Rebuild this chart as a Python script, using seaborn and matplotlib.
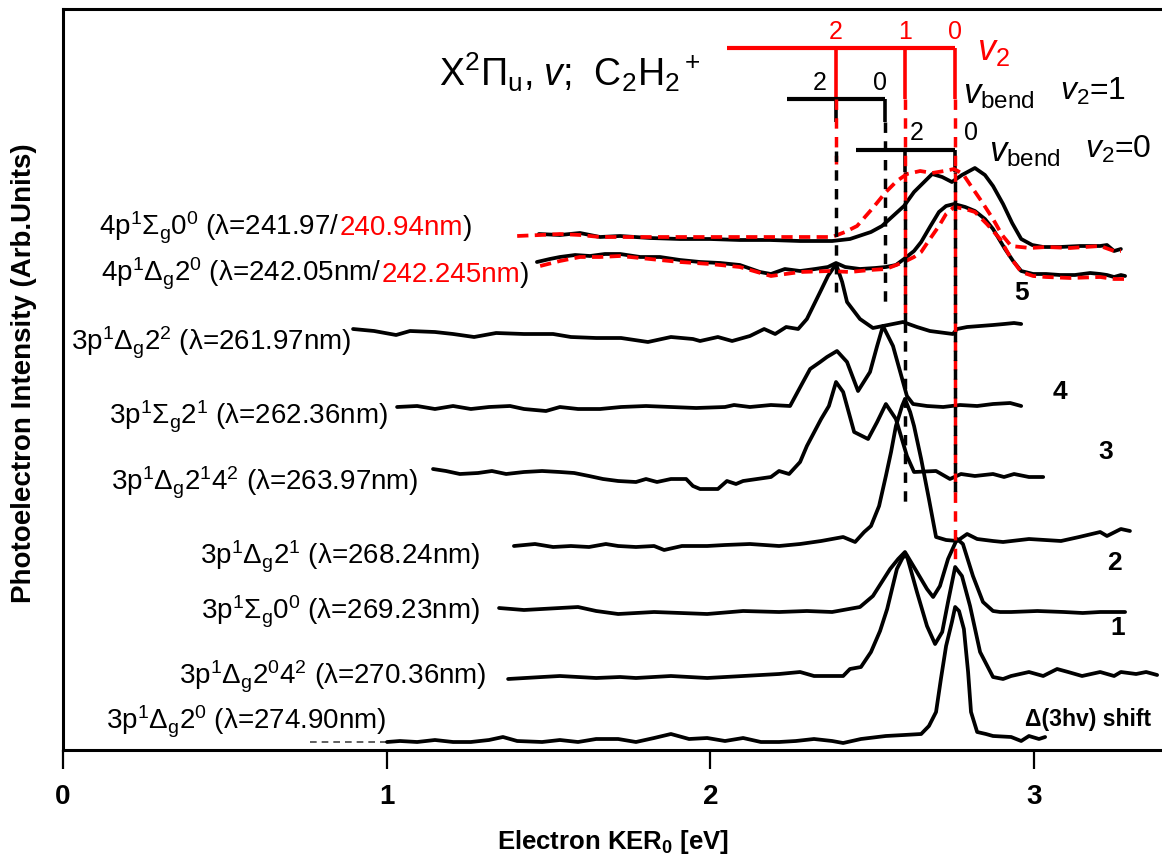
import matplotlib
matplotlib.use("Agg")
import matplotlib.pyplot as plt
import seaborn as sns

# ---------------- data (KER in eV, intensity in arbitrary units) ----------------
# 4p1Sigma_g 0^0, lambda = 241.97 nm (black)
s4p_24197_x = [1.470, 1.535, 1.597, 1.659, 1.721, 1.813, 1.906, 1.999, 2.091, 2.184, 2.277, 2.376,
               2.431, 2.496, 2.530, 2.564, 2.598, 2.629, 2.685, 2.716, 2.746, 2.777, 2.817, 2.848,
               2.873, 2.904, 2.932, 2.960, 2.994, 3.028, 3.080, 3.142, 3.204, 3.225, 3.247, 3.268]
s4p_24197_y = [5.16, 5.15, 5.17, 5.13, 5.14, 5.12, 5.11, 5.11, 5.10, 5.10, 5.09, 5.09,
               5.11, 5.18, 5.24, 5.34, 5.44, 5.58, 5.76, 5.73, 5.68, 5.75, 5.82, 5.75,
               5.64, 5.46, 5.27, 5.11, 5.05, 5.03, 5.03, 5.04, 5.04, 5.05, 4.99, 5.01]
# 4p1Sigma_g 0^0, lambda = 240.94 nm (red dashed)
s4p_24094_x = [1.403, 1.474, 1.535, 1.597, 1.659, 1.813, 1.968, 2.122, 2.277, 2.376, 2.416, 2.453,
               2.499, 2.542, 2.576, 2.607, 2.648, 2.685, 2.722, 2.753, 2.780, 2.805, 2.839, 2.873,
               2.901, 2.929, 2.987, 3.037, 3.111, 3.204, 3.247, 3.268]
s4p_24094_y = [5.14, 5.15, 5.16, 5.15, 5.13, 5.13, 5.13, 5.13, 5.13, 5.13, 5.18, 5.24,
               5.41, 5.58, 5.69, 5.76, 5.79, 5.77, 5.79, 5.81, 5.76, 5.64, 5.48, 5.31,
               5.15, 5.04, 5.02, 5.03, 5.02, 5.04, 4.99, 4.99]
# 4p1Delta_g 2^0, lambda = 242.05 nm (black)
d4p_24205_x = [1.464, 1.504, 1.535, 1.582, 1.628, 1.674, 1.721, 1.783, 1.844, 1.906, 1.968, 2.030,
               2.091, 2.153, 2.187, 2.230, 2.277, 2.323, 2.363, 2.388, 2.416, 2.462, 2.509, 2.542,
               2.573, 2.598, 2.629, 2.651, 2.678, 2.706, 2.728, 2.753, 2.787, 2.817, 2.848, 2.873,
               2.910, 2.935, 2.960, 2.997, 3.037, 3.080, 3.126, 3.173, 3.204, 3.225, 3.247, 3.268, 3.281]
d4p_24205_y = [4.88, 4.91, 4.93, 4.95, 4.94, 4.96, 4.96, 4.93, 4.93, 4.90, 4.88, 4.87,
               4.85, 4.78, 4.76, 4.81, 4.79, 4.81, 4.83, 4.87, 4.83, 4.81, 4.82, 4.83,
               4.85, 4.91, 4.99, 5.08, 5.23, 5.38, 5.44, 5.46, 5.43, 5.39, 5.31, 5.21,
               5.01, 4.89, 4.79, 4.76, 4.76, 4.75, 4.75, 4.77, 4.76, 4.75, 4.73, 4.75, 4.74]
# 4p1Delta_g 2^0, lambda = 242.245 nm (red dashed)
d4p_242245_x = [1.474, 1.535, 1.597, 1.659, 1.721, 1.813, 1.906, 1.999, 2.091, 2.187, 2.277, 2.370,
                2.431, 2.493, 2.542, 2.598, 2.629, 2.651, 2.678, 2.706, 2.728, 2.753, 2.787, 2.817,
                2.854, 2.895, 2.926, 2.960, 2.997, 3.037, 3.111, 3.204, 3.247, 3.281]
d4p_242245_y = [4.84, 4.89, 4.93, 4.93, 4.94, 4.91, 4.88, 4.86, 4.83, 4.74, 4.78, 4.79,
                4.78, 4.80, 4.81, 4.88, 4.93, 4.98, 5.11, 5.24, 5.36, 5.43, 5.41, 5.38,
                5.26, 5.11, 4.93, 4.78, 4.74, 4.73, 4.72, 4.73, 4.71, 4.71]
# 3p1Delta_g 2^2, 261.97 nm
d3p_26197_x = [0.896, 0.961, 1.029, 1.072, 1.149, 1.205, 1.270, 1.338, 1.424, 1.514, 1.569, 1.647,
               1.724, 1.807, 1.878, 1.946, 1.968, 2.023, 2.067, 2.122, 2.166, 2.200, 2.234, 2.271,
               2.298, 2.339, 2.363, 2.388, 2.407, 2.422, 2.462, 2.502, 2.533, 2.595, 2.638, 2.678,
               2.749, 2.762, 2.793, 2.873, 2.907, 2.938, 2.960]
d3p_26197_y = [4.21, 4.19, 4.15, 4.19, 4.18, 4.16, 4.13, 4.17, 4.16, 4.16, 4.13, 4.12,
               4.12, 4.08, 4.13, 4.11, 4.09, 4.13, 4.09, 4.14, 4.21, 4.16, 4.23, 4.21,
               4.31, 4.58, 4.74, 4.86, 4.68, 4.48, 4.31, 4.22, 4.24, 4.28, 4.23, 4.19,
               4.16, 4.21, 4.23, 4.25, 4.26, 4.27, 4.26]
# 3p1Sigma_g 2^1, 262.36 nm
s3p_26236_x = [1.032, 1.094, 1.149, 1.205, 1.260, 1.316, 1.381, 1.424, 1.492, 1.535, 1.591, 1.659,
               1.724, 1.801, 1.878, 1.956, 2.045, 2.073, 2.122, 2.187, 2.246, 2.286, 2.308, 2.339,
               2.360, 2.391, 2.422, 2.456, 2.493, 2.515, 2.533, 2.564, 2.607, 2.626, 2.669, 2.719,
               2.771, 2.824, 2.873, 2.926, 2.960]
s3p_26236_y = [3.43, 3.44, 3.41, 3.44, 3.41, 3.43, 3.44, 3.41, 3.39, 3.43, 3.41, 3.41,
               3.43, 3.44, 3.43, 3.42, 3.43, 3.45, 3.43, 3.45, 3.44, 3.68, 3.81, 3.88,
               3.93, 3.99, 3.88, 3.59, 3.78, 4.04, 4.24, 4.04, 3.54, 3.46, 3.44, 3.43,
               3.45, 3.44, 3.46, 3.47, 3.44]
# 3p1Delta_g 2^1 4^2, 263.97 nm
d3p_26397_x = [1.143, 1.183, 1.226, 1.282, 1.325, 1.369, 1.424, 1.480, 1.535, 1.579, 1.625, 1.668,
               1.715, 1.770, 1.801, 1.835, 1.878, 1.925, 1.946, 1.968, 2.023, 2.051, 2.079, 2.101,
               2.144, 2.187, 2.212, 2.243, 2.277, 2.298, 2.342, 2.366, 2.388, 2.410, 2.444, 2.487,
               2.515, 2.542, 2.573, 2.607, 2.629, 2.697, 2.740, 2.774, 2.817, 2.873, 2.907, 2.938,
               2.984, 3.028]
d3p_26397_y = [2.81, 2.79, 2.76, 2.77, 2.79, 2.76, 2.78, 2.79, 2.78, 2.77, 2.74, 2.71,
               2.69, 2.68, 2.71, 2.68, 2.71, 2.71, 2.64, 2.61, 2.61, 2.69, 2.66, 2.69,
               2.71, 2.73, 2.79, 2.76, 2.88, 3.04, 3.31, 3.44, 3.68, 3.58, 3.18, 3.11,
               3.28, 3.46, 3.31, 2.94, 2.78, 2.79, 2.71, 2.76, 2.74, 2.76, 2.73, 2.76,
               2.73, 2.73]
# 3p1Delta_g 2^1, 268.24 nm
d3p_26824_x = [1.393, 1.458, 1.514, 1.569, 1.625, 1.677, 1.715, 1.770, 1.826, 1.857, 1.912, 1.990,
               2.045, 2.122, 2.212, 2.277, 2.342, 2.410, 2.447, 2.475, 2.496, 2.521, 2.542, 2.558,
               2.573, 2.592, 2.601, 2.617, 2.629, 2.651, 2.675, 2.697, 2.728, 2.762, 2.793, 2.824,
               2.873, 2.904, 2.984, 3.083, 3.139, 3.204, 3.225, 3.268, 3.296]
d3p_26824_y = [2.04, 2.06, 2.03, 2.04, 2.03, 2.06, 2.04, 2.03, 2.04, 2.00, 2.04, 2.04,
               2.05, 2.06, 2.04, 2.06, 2.09, 2.13, 2.08, 2.18, 2.24, 2.44, 2.74, 2.98,
               3.24, 3.44, 3.51, 3.38, 3.24, 2.91, 2.51, 2.13, 2.10, 2.09, 2.16, 2.11,
               2.09, 2.08, 2.11, 2.09, 2.13, 2.18, 2.14, 2.21, 2.19]
# 3p1Sigma_g 0^0, 269.23 nm
s3p_26923_x = [1.347, 1.424, 1.535, 1.591, 1.647, 1.715, 1.826, 1.990, 2.101, 2.212, 2.298, 2.376,
               2.462, 2.502, 2.555, 2.580, 2.601, 2.638, 2.669, 2.688, 2.709, 2.734, 2.762, 2.780,
               2.811, 2.842, 2.873, 2.895, 2.929, 3.010, 3.092, 3.150, 3.204, 3.281]
s3p_26923_y = [1.42, 1.40, 1.42, 1.43, 1.39, 1.36, 1.38, 1.36, 1.39, 1.38, 1.39, 1.38,
               1.43, 1.54, 1.81, 1.91, 1.98, 1.78, 1.61, 1.53, 1.64, 1.91, 2.11, 2.06,
               1.74, 1.48, 1.39, 1.38, 1.38, 1.39, 1.38, 1.37, 1.38, 1.38]
# 3p1Delta_g 2^0 4^2, 270.36 nm
d3p_27036_x = [1.375, 1.480, 1.535, 1.591, 1.647, 1.721, 1.770, 1.878, 1.990, 2.101, 2.212, 2.277,
               2.320, 2.410, 2.431, 2.465, 2.496, 2.524, 2.546, 2.576, 2.595, 2.607, 2.638, 2.669,
               2.694, 2.716, 2.734, 2.756, 2.777, 2.802, 2.833, 2.873, 2.904, 2.929, 2.984, 3.028,
               3.071, 3.105, 3.148, 3.204, 3.247, 3.268, 3.315, 3.346, 3.380]
d3p_27036_y = [0.71, 0.73, 0.74, 0.73, 0.72, 0.73, 0.72, 0.74, 0.72, 0.74, 0.76, 0.78,
               0.74, 0.74, 0.81, 0.83, 0.98, 1.19, 1.41, 1.81, 1.93, 1.94, 1.58, 1.24,
               1.06, 1.18, 1.48, 1.83, 1.74, 1.44, 0.98, 0.73, 0.71, 0.74, 0.78, 0.74,
               0.81, 0.78, 0.74, 0.78, 0.74, 0.78, 0.76, 0.78, 0.75]
# 3p1Delta_g 2^0, 274.90 nm
d3p_27490_x = [1.001, 1.041, 1.094, 1.149, 1.205, 1.260, 1.316, 1.359, 1.403, 1.480, 1.535, 1.591,
               1.647, 1.715, 1.770, 1.826, 1.878, 1.934, 1.990, 2.045, 2.101, 2.156, 2.212, 2.264,
               2.320, 2.376, 2.410, 2.465, 2.542, 2.598, 2.651, 2.675, 2.697, 2.712, 2.728, 2.746,
               2.756, 2.768, 2.783, 2.796, 2.805, 2.824, 2.851, 2.873, 2.929, 2.960, 2.984, 3.015, 3.034]
d3p_27490_y = [0.08, 0.09, 0.08, 0.10, 0.08, 0.08, 0.10, 0.13, 0.09, 0.08, 0.10, 0.08,
               0.11, 0.11, 0.08, 0.12, 0.16, 0.11, 0.12, 0.09, 0.12, 0.08, 0.08, 0.09,
               0.11, 0.09, 0.07, 0.11, 0.14, 0.15, 0.16, 0.24, 0.38, 0.71, 1.04, 1.28,
               1.43, 1.39, 1.21, 0.78, 0.38, 0.18, 0.16, 0.14, 0.13, 0.09, 0.14, 0.11, 0.13]
d3p_27490_faint_x = [0.763, 1.001]
d3p_27490_faint_y = [0.08, 0.08]

# ion vibrational level energies (eV)
v2_levels = [2.388, 2.601, 2.756]
v2_labels = ["2", "1", "0"]
bend_v2_1 = [2.388, 2.539]
bend_v2_0 = [2.601, 2.756]
bend_labels = ["2", "0"]

x_ticks = [0, 1, 2, 3]

# ---------------- figure ----------------
sns.set_theme(style="white")
plt.rcParams["font.family"] = ["Liberation Sans", "DejaVu Sans"]
plt.rcParams["mathtext.fontset"] = "custom"
plt.rcParams["mathtext.rm"] = "Liberation Sans"
plt.rcParams["mathtext.it"] = "Liberation Sans:italic"
plt.rcParams["mathtext.bf"] = "Liberation Sans:bold"
plt.rcParams["text.color"] = "black"
plt.rcParams["axes.labelcolor"] = "black"
plt.rcParams["xtick.color"] = "black"
plt.rcParams["ytick.color"] = "black"
plt.rcParams["axes.edgecolor"] = "black"

W, H = 1162, 862
fig = plt.figure(figsize=(W / 100, H / 100), dpi=100)
ax = fig.add_axes([63 / W, 1 - 751 / H, 1 - 63 / W, (751 - 10) / H])
ax.set_xlim(0, 3.395)
ax.set_ylim(0, 7.41)

LW = 2.7
RED = "#ff0000"
black_traces = [
    (s4p_24197_x, s4p_24197_y), (d4p_24205_x, d4p_24205_y),
    (d3p_26197_x, d3p_26197_y), (s3p_26236_x, s3p_26236_y),
    (d3p_26397_x, d3p_26397_y), (d3p_26824_x, d3p_26824_y),
    (s3p_26923_x, s3p_26923_y), (d3p_27036_x, d3p_27036_y),
    (d3p_27490_x, d3p_27490_y),
]
red_traces = [(s4p_24094_x, s4p_24094_y), (d4p_242245_x, d4p_242245_y)]

for xs, ys in red_traces:
    sns.lineplot(x=xs, y=ys, ax=ax, color=RED, lw=LW, sort=False,
                 estimator=None, linestyle=(0, (3.0, 1.7)), zorder=4)
for xs, ys in black_traces:
    sns.lineplot(x=xs, y=ys, ax=ax, color="black", lw=LW, sort=False,
                 estimator=None, zorder=3)
sns.lineplot(x=d3p_27490_faint_x, y=d3p_27490_faint_y, ax=ax, color="#444444", lw=1.2,
             sort=False, estimator=None, linestyle=(0, (4, 3)), zorder=2)

# ---------------- level combs ----------------
y_red = 7.02
y_b1 = 6.51
y_b2 = 6.00
ax.plot([2.051, v2_levels[-1]], [y_red, y_red], color=RED, lw=3.0, solid_capstyle="butt")
for xv in v2_levels:
    ax.plot([xv, xv], [y_red, y_b1], color=RED, lw=2.6, solid_capstyle="butt")
for xv, lab in zip(v2_levels, v2_labels):
    ax.text(xv, 7.19, lab, color=RED, ha="center", va="center", fontsize=18)
ax.text(2.822, 7.00, r"$v_2$", color=RED, ha="left", va="center", fontsize=26)

# v2 = 1 bending comb
ax.plot([2.237, bend_v2_1[-1]], [y_b1, y_b1], color="black", lw=3.0, solid_capstyle="butt")
for xv in bend_v2_1:
    ax.plot([xv, xv], [y_b1, 6.28], color="black", lw=2.6, solid_capstyle="butt")
ax.text(2.336, 6.68, bend_labels[0], ha="center", va="center", fontsize=18)
ax.text(2.524, 6.68, bend_labels[1], ha="center", va="center", fontsize=18)
ax.text(2.780, 6.56, r"$v_{\mathrm{bend}}$", ha="left", va="center", fontsize=25)
ax.text(3.080, 6.60, r"$v_2$=1", ha="left", va="center", fontsize=23)

# v2 = 0 bending comb
ax.plot([2.450, bend_v2_0[-1]], [y_b2, y_b2], color="black", lw=3.0, solid_capstyle="butt")
for xv in bend_v2_0:
    ax.plot([xv, xv], [y_b2, 5.78], color="black", lw=2.6, solid_capstyle="butt")
ax.text(2.638, 6.18, bend_labels[0], ha="center", va="center", fontsize=18)
ax.text(2.805, 6.18, bend_labels[1], ha="center", va="center", fontsize=18)
ax.text(2.862, 5.98, r"$v_{\mathrm{bend}}$", ha="left", va="center", fontsize=25)
ax.text(3.158, 6.02, r"$v_2$=0", ha="left", va="center", fontsize=23)

# dashed drop lines
DLW = 2.5
def vdash(x, y0, y1, color, offset=0.0):
    ax.plot([x, x], [y0, y1], color=color, lw=DLW, linestyle=(offset, (3.0, 2.4)),
            dash_capstyle="butt", zorder=5)

vdash(2.388, y_b1, 5.86, RED)
vdash(2.388, 5.99, 4.58, "black")
vdash(2.539, 6.28, 4.43, "black")
vdash(2.601, y_b1, 5.78, RED)
vdash(2.601, 5.78, 4.28, RED)
vdash(2.601, 5.78, 4.28, "black", offset=2.7)
vdash(2.601, 4.28, 2.41, "black")
vdash(2.756, y_b1, 5.78, RED)
vdash(2.756, 5.78, 2.58, RED)
vdash(2.756, 5.78, 2.58, "black", offset=2.7)
vdash(2.756, 2.58, 1.84, RED)

# title of the ion state
ax.text(1.162, 6.79, r"X$^2\Pi_\mathrm{u}$, $v$;  C$_2$H$_2$$^+$", ha="left", va="center",
        fontsize=27)

# ---------------- trace labels ----------------
FS = 20
labels_right = [
    (0.890, 4.08, r"3p$^1\Delta_\mathrm{g}2^2$ (λ=261.97nm)"),
    (1.004, 3.34, r"3p$^1\Sigma_\mathrm{g}2^1$ (λ=262.36nm)"),
    (1.100, 2.68, r"3p$^1\Delta_\mathrm{g}2^14^2$ (λ=263.97nm)"),
    (1.288, 1.94, r"3p$^1\Delta_\mathrm{g}2^1$ (λ=268.24nm)"),
    (1.288, 1.39, r"3p$^1\Sigma_\mathrm{g}0^0$ (λ=269.23nm)"),
    (1.310, 0.74, r"3p$^1\Delta_\mathrm{g}2^04^2$ (λ=270.36nm)"),
    (0.998, 0.29, r"3p$^1\Delta_\mathrm{g}2^0$ (λ=274.90nm)"),
]
for x, y, s in labels_right:
    ax.text(x, y, s, ha="right", va="center", fontsize=FS, zorder=6)

def multicolor(x, y, parts):
    prev = None
    for s, c in parts:
        if prev is None:
            prev = ax.text(x, y, s, color=c, ha="left", va="baseline", fontsize=FS)
        else:
            prev = ax.annotate(s, xy=(1, y), xycoords=(prev, "data"), color=c,
                               ha="left", va="baseline", fontsize=FS)

multicolor(0.111, 5.16, [(r"4p$^1\Sigma_\mathrm{g}0^0$ (λ=241.97/", "black"),
                          ("240.94nm", RED), (")", "black")])
multicolor(0.117, 4.69, [(r"4p$^1\Delta_\mathrm{g}2^0$ (λ=242.05nm/", "black"),
                          ("242.245nm", RED), (")", "black")])

# peak numbers
for x, y, s in [(2.960, 4.58, "5"), (3.080, 3.59, "4"), (3.222, 2.99, "3"),
                (3.247, 1.88, "2"), (3.259, 1.23, "1")]:
    ax.text(x, y, s, ha="center", va="center", fontsize=19, fontweight="bold")
ax.text(3.167, 0.31, "Δ(3hv) shift", ha="center", va="center", fontsize=16.5, fontweight="bold")

# ---------------- axes styling ----------------
for side in ["left", "top", "bottom"]:
    ax.spines[side].set_visible(True)
    ax.spines[side].set_color("black")
    ax.spines[side].set_linewidth(2.2)
ax.spines["right"].set_visible(False)
ax.set_yticks([])
ax.set_xticks(x_ticks)
ax.set_xticklabels([str(t) for t in x_ticks], fontweight="bold")
ax.tick_params(axis="x", direction="out", length=14, width=1.6, pad=10,
               labelsize=20, bottom=True, color="black", labelcolor="black")
ax.set_xlabel(r"Electron KER$_\mathbf{0}$ [eV]", fontsize=18.5, fontweight="bold", labelpad=13,
              color="black")
ax.set_ylabel("Photoelectron Intensity (Arb.Units)", fontsize=20, fontweight="bold",
              color="black")
ax.yaxis.set_label_coords(-0.024, 0.51)

fig.savefig("out.png", dpi=100)
